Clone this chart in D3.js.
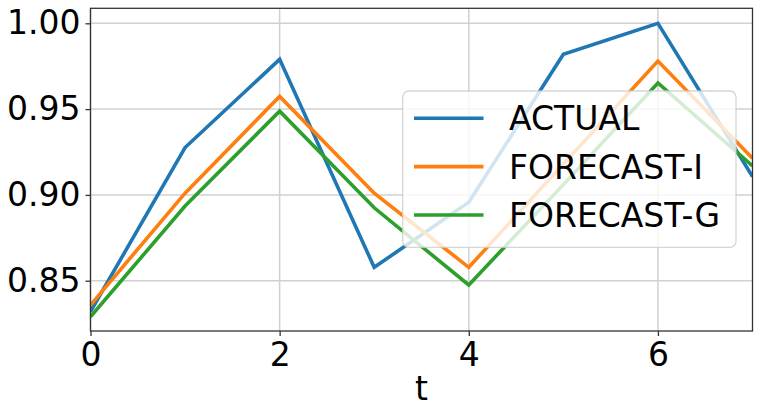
<!DOCTYPE html>
<html>
<head>
<meta charset="utf-8">
<script src="https://cdn.jsdelivr.net/npm/d3@7"></script>
<style>
  body { margin: 0; background: #fff; }
  svg text { font-family: "DejaVu Sans", sans-serif; fill: #000; }
</style>
</head>
<body>
<div id="chart"></div>
<script>
// data
var t = [0, 1, 2, 3, 4, 5, 6, 7];
var actual    = [0.832, 0.9276, 0.979, 0.8578, 0.8957, 0.982, 1.000, 0.9107];
var forecastI = [0.8358, 0.901, 0.9574, 0.901, 0.8578, 0.918, 0.978, 0.9213];
var forecastG = [0.829, 0.8935, 0.9488, 0.8925, 0.8475, 0.906, 0.9652, 0.9169];
var seriesNames = ['ACTUAL', 'FORECAST-I', 'FORECAST-G'];
var xTicks = [0, 2, 4, 6];
var yTicks = [0.85, 0.90, 0.95, 1.00];

var width = 761,
    height = 417,
    fontSize = 33,
    margin = {top: 8.3, right: 8.5, bottom: 86, left: 90.5},
    color = d3.scaleOrdinal().domain(seriesNames).range(['#1f77b4', '#ff7f0e', '#2ca02c']);

var x = d3.scaleLinear().domain([0, 7]).range([margin.left, width - margin.right]);
var y = d3.scaleLinear().domain([0.8207, 1.00874]).range([height - margin.bottom, margin.top]);

var svg = d3.select('#chart')
  .append('svg')
  .attr('width', width)
  .attr('height', height);

// grid
var grid = svg.append('g').attr('stroke', '#d0d0d0').attr('stroke-width', 1.5);
grid.selectAll('.gx').data(xTicks).enter().append('line')
  .attr('x1', function(d) { return x(d); }).attr('x2', function(d) { return x(d); })
  .attr('y1', y.range()[0]).attr('y2', y.range()[1]);
grid.selectAll('.gy').data(yTicks).enter().append('line')
  .attr('y1', function(d) { return y(d); }).attr('y2', function(d) { return y(d); })
  .attr('x1', x.range()[0]).attr('x2', x.range()[1]);

svg.append('clipPath').attr('id', 'clip')
  .append('rect')
  .attr('x', x.range()[0]).attr('y', y.range()[1])
  .attr('width', x.range()[1] - x.range()[0])
  .attr('height', y.range()[0] - y.range()[1]);

var series = [actual, forecastI, forecastG].map(function(vals, i) {
  return {name: seriesNames[i], values: vals.map(function(v, j) { return [t[j], v]; })};
});

var line = d3.line()
  .x(function(d) { return x(d[0]); })
  .y(function(d) { return y(d[1]); });

svg.append('g').attr('clip-path', 'url(#clip)')
  .selectAll('path')
  .data(series)
  .enter()
  .append('path')
  .attr('d', function(d) { return line(d.values); })
  .attr('fill', 'none')
  .attr('stroke', function(d) { return color(d.name); })
  .attr('stroke-width', 3.6)
  .attr('stroke-linejoin', 'miter');

// axes
var xAxis = svg.append('g')
  .attr('transform', 'translate(0,' + y.range()[0] + ')')
  .call(d3.axisBottom(x).tickValues(xTicks).tickFormat(d3.format('d')).tickSize(5).tickPadding(7).tickSizeOuter(0));
var yAxis = svg.append('g')
  .attr('transform', 'translate(' + x.range()[0] + ',0)')
  .call(d3.axisLeft(y).tickValues(yTicks).tickFormat(d3.format('.2f')).tickSize(5).tickPadding(5).tickSizeOuter(0));

[xAxis, yAxis].forEach(function(a) {
  a.select('.domain').remove();
  a.selectAll('line').attr('stroke', '#333').attr('stroke-width', 1.3);
  a.selectAll('text').attr('font-size', fontSize).attr('font-family', '"DejaVu Sans", sans-serif').attr('fill', '#000');
});

// frame
svg.append('rect')
  .attr('x', x.range()[0]).attr('y', y.range()[1])
  .attr('width', x.range()[1] - x.range()[0])
  .attr('height', y.range()[0] - y.range()[1])
  .attr('fill', 'none')
  .attr('stroke', '#333')
  .attr('stroke-width', 1.3);

svg.append('text')
  .attr('x', (x.range()[0] + x.range()[1]) / 2)
  .attr('y', 400)
  .attr('text-anchor', 'middle')
  .attr('font-size', fontSize)
  .text('t');

// legend
var legend = svg.append('g');
legend.append('rect')
  .attr('x', 402.7).attr('y', 91)
  .attr('width', 333.3).attr('height', 156.3)
  .attr('rx', 6)
  .attr('fill', 'rgba(255,255,255,0.8)')
  .attr('stroke', 'rgba(204,204,204,0.8)')
  .attr('stroke-width', 1.3);

var rows = legend.selectAll('.row')
  .data(seriesNames)
  .enter()
  .append('g')
  .attr('transform', function(d, i) { return 'translate(0,' + (118.3 + i * 48.35) + ')'; });
rows.append('line')
  .attr('x1', 414).attr('x2', 483.5)
  .attr('stroke', function(d) { return color(d); })
  .attr('stroke-width', 3.6);
rows.append('text')
  .attr('x', 509)
  .attr('y', 12)
  .attr('font-size', fontSize)
  .text(function(d) { return d; });
</script>
</body>
</html>
